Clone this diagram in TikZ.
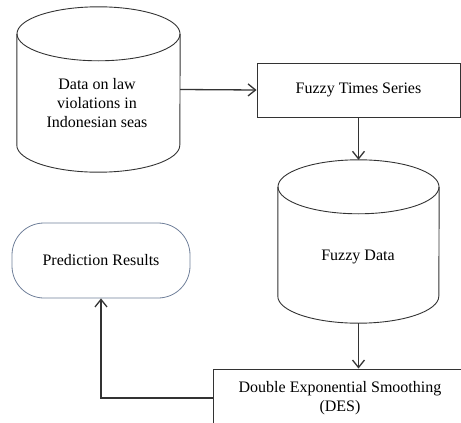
\documentclass[tikz,border=0pt]{standalone}
\usepackage{fontspec}
\setmainfont{Liberation Serif}
\usepackage{tikz}
\usetikzlibrary{arrows.meta}
\usepackage{xcolor}
\definecolor{linegray}{HTML}{333333}
\definecolor{roundblue}{HTML}{6F7F99}

% drum outline over a named node: #1 node, #2 half width, #3 cap depth
\newcommand{\drumover}[3]{%
    \draw[drumline] ([yshift=-#3]#1.north) ellipse [x radius=#2, y radius=#3];
    \draw[drumline] ([yshift=-#3]#1.north west) -- ([yshift=#3]#1.south west)
        arc [start angle=180, end angle=360, x radius=#2, y radius=#3]
        -- ([yshift=-#3]#1.north east);}

\begin{document}
\begin{tikzpicture}[x=1pt, y=-1pt,
        drumline/.style={draw=linegray, line width=0.9pt},
        store/.style={rectangle, inner sep=0pt},
        process/.style={draw=linegray, line width=0.9pt, rectangle, inner sep=0pt},
        txt/.style={align=center, inner sep=0pt, font=\fontsize{16}{19}\selectfont},
        flow/.style={-{Straight Barb[length=7.5pt, width=12pt]}, line width=1.3pt, linegray}]

        \clip (0,0) rectangle (461,423);

        \node[store, minimum width=163pt, minimum height=165pt] (data) at (98.5,89.5) {};
        \node[process, minimum width=203pt, minimum height=54pt] (fts) at (358.5,90) {};
        \node[store, minimum width=161pt, minimum height=163pt] (fuzzy) at (358.5,241.5) {};
        \node[process, minimum width=257pt, minimum height=58pt] (des) at (341.5,398) {};
        \node[draw=roundblue, line width=0.8pt, rounded corners=32pt, minimum width=178pt,
            minimum height=75pt] (pred) at (101,260.5) {};

        \drumover{data}{81.5pt}{27pt}
        \drumover{fuzzy}{80.5pt}{27pt}

        \node[txt] at (97,103) {Data on law\\violations in\\Indonesian seas};
        \node[txt] at (fts) {Fuzzy Times Series};
        \node[txt] at (358,257) {Fuzzy Data};
        \node[txt] at (340,398) {Double Exponential Smoothing\\(DES)};
        \node[txt] at (pred) {Prediction Results};

        \draw[flow] (data.east) -- (fts.west);
        \draw[flow] (fts.south) -- (fuzzy.north);
        \draw[flow] (fuzzy.south) -- (fuzzy.south |- des.north);
        \draw[flow] (des.west) -| (pred.south);

    \end{tikzpicture}
\end{document}
